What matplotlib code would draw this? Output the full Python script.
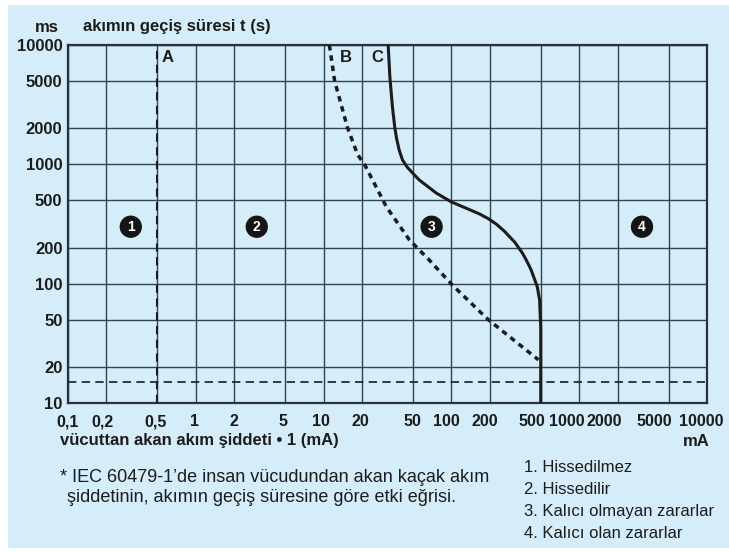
import matplotlib
matplotlib.use("Agg")
import matplotlib.pyplot as plt
from matplotlib.patches import Rectangle
from matplotlib.transforms import ScaledTranslation

plt.rcParams["font.family"] = ["Liberation Sans", "DejaVu Sans"]

BG_BLUE = "#d5ecf9"
INK = "#1c1c1c"
GRID = "#34434c"

# axis ticks
X_TICKS = [0.1, 0.2, 0.5, 1, 2, 5, 10, 20, 50, 100, 200, 500, 1000, 2000, 5000, 10000]
X_LABELS = ["0,1", "0,2", "0,5", "1", "2", "5", "10", "20", "50", "100", "200",
            "500", "1000", "2000", "5000", "10000"]
Y_TICKS = [10, 20, 50, 100, 200, 500, 1000, 2000, 5000, 10000]
Y_LABELS = [str(v) for v in Y_TICKS]

# limit lines (mA, ms)
A_CURRENT = 0.5
MIN_TIME = 15
B_CURRENT = [11.1, 12.2, 15.4, 18.5, 21, 31, 47, 67, 102, 194, 480]
B_TIME = [10000, 5000, 2020, 1200, 990, 440, 232, 158, 97, 50, 23]
C_CURRENT = [32, 33, 34.6, 36, 37.2, 39, 41.4, 45, 50, 56, 76, 100, 138, 165,
             195, 225, 260, 315, 360, 385, 420, 470, 490, 500, 500]
C_TIME = [10000, 5400, 3000, 2060, 1660, 1320, 1090, 950, 840, 740, 575, 484,
          418, 385, 350, 315, 275, 221, 180, 158, 131, 94, 73, 43, 10]

# zone markers
ZONE_NAMES = ["1", "2", "3", "4"]
ZONE_X = [0.31, 3.0, 70, 3100]
ZONE_Y = [300, 300, 300, 300]
LEGEND = ["1. Hissedilmez", "2. Hissedilir", "3. Kalıcı olmayan zararlar",
          "4. Kalıcı olan zararlar"]

W, H = 729, 552


def fx(px):
    return px / W


def fy(py):
    return 1 - py / H


fig = plt.figure(figsize=(W / 100, H / 100), dpi=100, facecolor="white")
fig.patches.append(Rectangle((fx(8), fy(548)), fx(729 - 8), (548 - 5) / H,
                             transform=fig.transFigure, facecolor=BG_BLUE,
                             edgecolor="none", zorder=-10))

ax = fig.add_axes([fx(68), fy(403), fx(707 - 68), (403 - 45) / H])
ax.set_zorder(1)
ax.set_facecolor("none")
ax.set_xscale("log")
ax.set_yscale("log")
ax.set_xlim(0.1, 10000)
ax.set_ylim(10, 10000)

ax.set_xticks(X_TICKS)
ax.set_xticklabels(X_LABELS)
ax.set_yticks(Y_TICKS)
ax.set_yticklabels(Y_LABELS)
ax.minorticks_off()
ax.tick_params(length=0, labelsize=12, labelcolor=INK)
ax.tick_params(axis="x", pad=8, labelsize=11.5)
ax.tick_params(axis="y", pad=4)
for lab in ax.get_xticklabels() + ax.get_yticklabels():
    lab.set_fontweight("bold")

# crowded labels on the right are nudged left like in the print
x_shift = [0, -4, -2, -1, 0, -2, -3, -2, 0, -5, -5, -8.5, -12, -13.5, -14.5, -6]
for lab, dx in zip(ax.get_xticklabels(), x_shift):
    lab.set_transform(lab.get_transform() + ScaledTranslation(dx / 100, 0, fig.dpi_scale_trans))

ax.grid(True, color=GRID, linewidth=1.0)
ax.set_axisbelow(True)
for sp in ax.spines.values():
    sp.set_color("#2a3238")
    sp.set_linewidth(1.6)

ax.axvline(A_CURRENT, color=INK, linewidth=1.5, linestyle=(0, (4, 2.6)), zorder=3)
ax.axhline(MIN_TIME, color=INK, linewidth=1.2, linestyle=(0, (5, 3.2)), zorder=3)
ax.plot(B_CURRENT, B_TIME, color=INK, linewidth=2.5, linestyle=(0, (1.6, 1.4)),
        zorder=4)
ax.plot(C_CURRENT, C_TIME, color=INK, linewidth=2.2, solid_capstyle="butt",
        solid_joinstyle="round", zorder=4)

ax.text(0.54, 7800, "A", fontsize=12, fontweight="bold", color=INK, ha="left", va="center")
ax.text(13.3, 7800, "B", fontsize=12, fontweight="bold", color=INK, ha="left", va="center")
ax.text(23.7, 7800, "C", fontsize=12, fontweight="bold", color=INK, ha="left", va="center")

for name, zx, zy in zip(ZONE_NAMES, ZONE_X, ZONE_Y):
    ax.text(zx, zy, name, fontsize=10, fontweight="bold", color="white",
            ha="center", va="center", zorder=5,
            bbox=dict(boxstyle="circle,pad=0.3", facecolor="#151515", edgecolor="none"))

fig.text(fx(47), fy(27), "ms", fontsize=12, fontweight="bold", color=INK,
         ha="center", va="center")
fig.text(fx(83), fy(27), "akımın geçiş süresi t (s)", fontsize=12,
         fontweight="bold", color=INK, ha="left", va="center")
fig.text(fx(60), fy(441), "vücuttan akan akım şiddeti • 1 (mA)", fontsize=12,
         fontweight="bold", color=INK, ha="left", va="center")
fig.text(fx(710), fy(441), "mA", fontsize=12, fontweight="bold", color=INK,
         ha="right", va="center")

fig.text(fx(60), fy(477), "* IEC 60479-1’de insan vücudundan akan kaçak akım",
         fontsize=13, color=INK, ha="left", va="center")
fig.text(fx(67), fy(497), "şiddetinin, akımın geçiş süresine göre etki eğrisi.",
         fontsize=13, color=INK, ha="left", va="center")

for i, line in enumerate(LEGEND):
    fig.text(fx(524), fy(468 + 21.7 * i), line, fontsize=12, color=INK,
             ha="left", va="center")

fig.savefig("out.png", dpi=100, facecolor="white")
